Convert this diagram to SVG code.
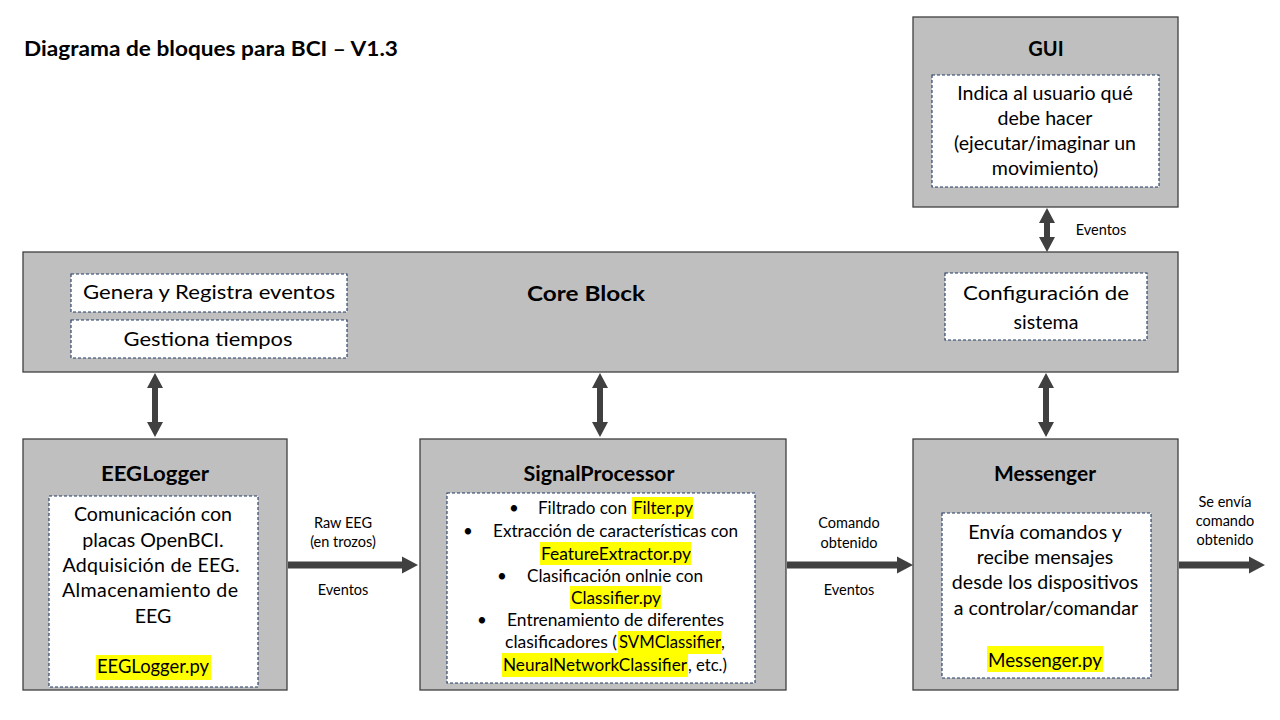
<svg xmlns="http://www.w3.org/2000/svg" width="1280" height="720" viewBox="0 0 1280 720">
<style>
.blk{fill:#bfbfbf;stroke:#3f3f3f;stroke-width:1.3}
.inner{fill:#ffffff;stroke:#1f3864;stroke-width:1.1;stroke-dasharray:3 2}
.hl{fill:#ffff00}
.hd{font-family:Lato,"Liberation Sans",sans-serif;font-weight:bold;font-size:20px;fill:#000;text-anchor:middle}
.tx{font-family:Lato,"Liberation Sans",sans-serif;font-size:19.6px;fill:#000;text-anchor:middle}
.sp{font-family:Lato,"Liberation Sans",sans-serif;font-size:17px;fill:#000}
.lb{font-family:Lato,"Liberation Sans",sans-serif;font-size:14.5px;fill:#000;text-anchor:middle}
.arr{fill:#404040}
</style>
<rect width="1280" height="720" fill="#ffffff"/>
<text id="title" x="24" y="56" font-family="Lato,'Liberation Sans',sans-serif" font-size="20" font-weight="bold" textLength="374" lengthAdjust="spacingAndGlyphs">Diagrama de bloques para BCI – V1.3</text>

<g id="gui">
<rect class="blk" x="913" y="17" width="265" height="190"/>
<text class="hd" x="1046" y="56">GUI</text>
<rect class="inner" x="932" y="75" width="227" height="112"/>
<text class="tx" x="1045" y="100">Indica al usuario qué</text>
<text class="tx" x="1045" y="125">debe hacer</text>
<text class="tx" x="1045" y="150">(ejecutar/imaginar un</text>
<text class="tx" x="1045" y="175">movimiento)</text>
</g>

<g id="core">
<rect class="blk" x="23" y="252" width="1155" height="120"/>
<text class="hd" x="586" y="301" font-size="22" textLength="118" lengthAdjust="spacingAndGlyphs">Core Block</text>
<rect class="inner" x="71" y="274" width="276" height="38"/>
<text class="tx" x="209" y="299" font-size="22" textLength="252" lengthAdjust="spacingAndGlyphs">Genera y Registra eventos</text>
<rect class="inner" x="71" y="320" width="276" height="38"/>
<text class="tx" x="208" y="346" font-size="22" textLength="169" lengthAdjust="spacingAndGlyphs">Gestiona tiempos</text>
<rect class="inner" x="945" y="273" width="202" height="67"/>
<text class="tx" x="1046" y="300" font-size="23.5" textLength="166" lengthAdjust="spacingAndGlyphs">Configuración de</text>
<text class="tx" x="1046" y="329" font-size="23.5">sistema</text>
</g>

<g id="eeglogger">
<rect class="blk" x="23" y="439" width="264" height="251"/>
<text class="hd" x="155" y="481" textLength="108" lengthAdjust="spacingAndGlyphs">EEGLogger</text>
<rect class="inner" x="49" y="496" width="209" height="191"/>
<text class="tx" x="153" y="521">Comunicación con</text>
<text class="tx" x="153" y="547">placas OpenBCI.</text>
<text class="tx" x="151" y="572" textLength="177" lengthAdjust="spacing">Adquisición de EEG.</text>
<text class="tx" x="150" y="597" textLength="176" lengthAdjust="spacing">Almacenamiento de</text>
<text class="tx" x="153" y="623">EEG</text>
<rect class="hl" x="96" y="655" width="115" height="25"/>
<text class="tx" x="153" y="673" textLength="112" lengthAdjust="spacingAndGlyphs">EEGLogger.py</text>
</g>

<g id="signalprocessor">
<rect class="blk" x="420" y="439" width="366" height="251"/>
<text class="hd" x="599" y="481" textLength="151" lengthAdjust="spacingAndGlyphs">SignalProcessor</text>
<rect class="inner" x="447" y="493" width="308" height="190"/>
<rect class="hl" x="632" y="497" width="61" height="22"/>
<rect class="hl" x="540" y="542" width="151" height="23"/>
<rect class="hl" x="570" y="586" width="91" height="23"/>
<rect class="hl" x="618" y="631" width="103" height="23"/>
<rect class="hl" x="502" y="653" width="186" height="24"/>
<text class="sp" x="509" y="514">•</text>
<text class="sp" x="538" y="514" textLength="89" lengthAdjust="spacingAndGlyphs">Filtrado con</text>
<text class="sp" x="633" y="514" textLength="60" lengthAdjust="spacingAndGlyphs">Filter.py</text>
<text class="sp" x="463" y="537">•</text>
<text class="sp" x="493" y="537" textLength="245" lengthAdjust="spacingAndGlyphs">Extracción de características con</text>
<text class="sp" x="541" y="560" textLength="150" lengthAdjust="spacingAndGlyphs">FeatureExtractor.py</text>
<text class="sp" x="497" y="582">•</text>
<text class="sp" x="527" y="582" textLength="176" lengthAdjust="spacingAndGlyphs">Clasificación onlnie con</text>
<text class="sp" x="571" y="604" textLength="90" lengthAdjust="spacingAndGlyphs">Classifier.py</text>
<text class="sp" x="477" y="626">•</text>
<text class="sp" x="507" y="626" textLength="217" lengthAdjust="spacingAndGlyphs">Entrenamiento de diferentes</text>
<text class="sp" x="505" y="648" textLength="112" lengthAdjust="spacingAndGlyphs">clasificadores (</text>
<text class="sp" x="619" y="648" textLength="102" lengthAdjust="spacingAndGlyphs">SVMClassifier</text>
<text class="sp" x="721" y="648">,</text>
<text class="sp" x="503" y="671" textLength="184" lengthAdjust="spacingAndGlyphs">NeuralNetworkClassifier</text>
<text class="sp" x="688" y="671" textLength="39" lengthAdjust="spacingAndGlyphs">, etc.)</text>
</g>

<g id="messenger">
<rect class="blk" x="913" y="439" width="265" height="251"/>
<text class="hd" x="1045" y="481" textLength="102" lengthAdjust="spacingAndGlyphs">Messenger</text>
<rect class="inner" x="942" y="513" width="209" height="165"/>
<text class="tx" x="1045" y="539">Envía comandos y</text>
<text class="tx" x="1045" y="564">recibe mensajes</text>
<text class="tx" x="1045" y="589">desde los dispositivos</text>
<text class="tx" x="1046" y="615">a controlar/comandar</text>
<rect class="hl" x="987" y="646" width="116" height="26"/>
<text class="tx" x="1045" y="667" textLength="114" lengthAdjust="spacingAndGlyphs">Messenger.py</text>
</g>

<g id="connectors">
<polygon class="arr" points="155,373 163,388 158,388 158,422 163,422 155,437 147,422 152,422 152,388 147,388"/>
<polygon class="arr" points="600,373 608,388 603,388 603,422 608,422 600,437 592,422 597,422 597,388 592,388"/>
<polygon class="arr" points="1046,373 1054,388 1049,388 1049,422 1054,422 1046,437 1038,422 1043,422 1043,388 1038,388"/>
<polygon class="arr" points="1047,208 1055,223 1050,223 1050,237 1055,237 1047,252 1039,237 1044,237 1044,223 1039,223"/>
<polygon class="arr" points="288,561.5 402,561.5 402,556.5 418,565 402,573.5 402,568.5 288,568.5"/>
<polygon class="arr" points="787,561.5 897,561.5 897,556.5 913,565 897,573.5 897,568.5 787,568.5"/>
<polygon class="arr" points="1179,561.5 1249,561.5 1249,556.5 1265,565 1249,573.5 1249,568.5 1179,568.5"/>
<text class="lb" x="1101" y="235">Eventos</text>
<text class="lb" x="343" y="528">Raw EEG</text>
<text class="lb" x="343" y="547">(en trozos)</text>
<text class="lb" x="343" y="595">Eventos</text>
<text class="lb" x="849" y="528">Comando</text>
<text class="lb" x="849" y="548">obtenido</text>
<text class="lb" x="849" y="595">Eventos</text>
<text class="lb" x="1225" y="507">Se envía</text>
<text class="lb" x="1225" y="526">comando</text>
<text class="lb" x="1225" y="545">obtenido</text>
</g>
</svg>
